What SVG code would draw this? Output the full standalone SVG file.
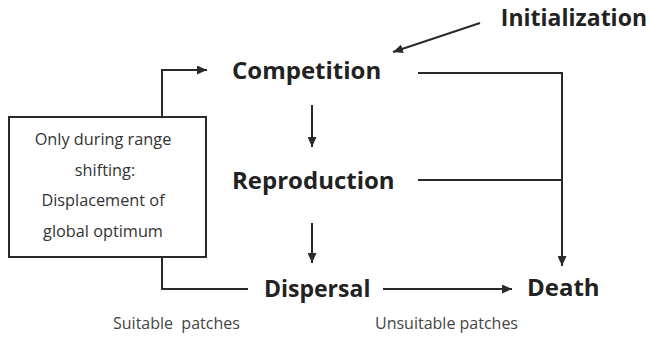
<svg xmlns="http://www.w3.org/2000/svg" width="650" height="338" viewBox="0 0 650 338">
<defs>
<style>
.t{font-family:"Open Sans","Liberation Sans",sans-serif;font-weight:700;font-size:24px;fill:#222}
.s{font-family:"Open Sans","Liberation Sans",sans-serif;font-size:16px;fill:#444}
.b{font-family:"Open Sans","Liberation Sans",sans-serif;font-size:16.3px;fill:#333;text-anchor:middle}
.c{fill:none;stroke:#2a2a2a;stroke-width:2}
</style>
<marker id="ah" markerUnits="userSpaceOnUse" markerWidth="11" markerHeight="9" refX="10" refY="4.5" orient="auto">
<path d="M0,0 L10,4.5 L0,9 z" fill="#2a2a2a"/>
</marker>
</defs>
<rect width="650" height="338" fill="#fff"/>
<g id="connectors">
<path class="c" d="M162,117 V70 H207" marker-end="url(#ah)"/>
<path class="c" d="M480,23 L393,52" marker-end="url(#ah)"/>
<path class="c" d="M312,105 V147" marker-end="url(#ah)"/>
<path class="c" d="M312,223 V263" marker-end="url(#ah)"/>
<path class="c" d="M418,73 H562 V266" marker-end="url(#ah)"/>
<path class="c" d="M418,180 H562"/>
<path class="c" d="M162,257 V289 H248"/>
<path class="c" d="M383,289 H512" marker-end="url(#ah)"/>
</g>
<g id="initialization"><text class="t" x="647" y="26" text-anchor="end" style="font-size:23px">Initialization</text></g>
<g id="competition"><text class="t" x="232" y="79">Competition</text></g>
<g id="reproduction"><text class="t" x="232" y="189">Reproduction</text></g>
<g id="dispersal"><text class="t" x="264" y="297" style="font-size:23px">Dispersal</text></g>
<g id="death"><text class="t" x="527" y="296">Death</text></g>
<g id="range-shifting">
<rect x="9" y="117" width="197" height="140" fill="#fff" stroke="#2a2a2a" stroke-width="2"/>
<text class="b" x="103" y="145">Only during range</text>
<text class="b" x="105" y="176">shifting:</text>
<text class="b" x="103" y="206">Displacement of</text>
<text class="b" x="103" y="237">global optimum</text>
</g>
<g id="labels">
<text class="s" x="113" y="329" xml:space="preserve">Suitable  patches</text>
<text class="s" x="375" y="329">Unsuitable patches</text>
</g>
</svg>
